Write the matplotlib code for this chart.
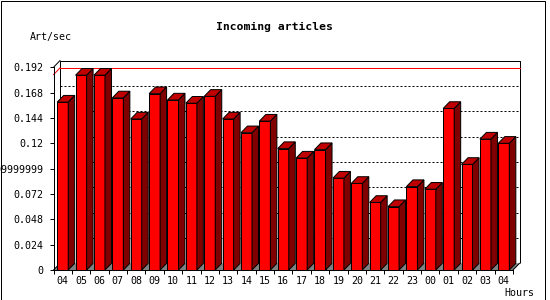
import matplotlib
matplotlib.use("Agg")
import matplotlib.pyplot as plt
from matplotlib.patches import Polygon, Rectangle
from matplotlib.transforms import ScaledTranslation

hours = ["04", "05", "06", "07", "08", "09", "10", "11", "12", "13", "14", "15",
         "16", "17", "18", "19", "20", "21", "22", "23", "00", "01", "02", "03", "04"]
values = [0.159, 0.1845, 0.1845, 0.163, 0.143, 0.167, 0.161, 0.158, 0.1645, 0.143,
          0.130, 0.141, 0.115, 0.106, 0.114, 0.087, 0.082, 0.064, 0.060, 0.079,
          0.0765, 0.153, 0.100, 0.124, 0.120]
ytick_values = [0, 0.024, 0.048, 0.072, 0.096, 0.12, 0.144, 0.168, 0.192]
ytick_labels = ["0", "0.024", "0.048", "0.072", "0.09599999999999999", "0.12",
                "0.144", "0.168", "0.192"]
peak_line = 0.185
title = "Incoming articles"
ylabel = "Art/sec"
xlabel = "Hours"

FONT = "DejaVu Sans Mono"
W, H = 550, 300
LW = 0.72  # 1 px

fig = plt.figure(figsize=(W / 100, H / 100), dpi=100)
fig.patch.set_facecolor("white")

ax_l, ax_b, ax_w, ax_h = 53.5, 30.0, 459.5, 202.7
ax = fig.add_axes([ax_l / W, ax_b / H, ax_w / W, ax_h / H])
ax.set_facecolor("none")
n = len(values)
ax.set_xlim(-0.5, n - 0.5)
ax.set_ylim(0, 0.192)

dpx, dpy = 6.5, 6.7
DX = dpx * (n / ax_w)
DY = dpy * (0.192 / ax_h)
back = ax.transData + ScaledTranslation(dpx / 100, dpy / 100, fig.dpi_scale_trans)

x0, x1 = -0.5, n - 0.5
# back wall gridlines
for yv in ytick_values[1:-1]:
    ax.plot([x0, x1], [yv, yv], transform=back, color="black", lw=LW,
            ls=(0, (2, 2)), zorder=0.5, clip_on=False)
# back wall box
ax.plot([x0, x0, x1, x1], [0, 0.192, 0.192, 0], transform=back, color="black",
        lw=LW, zorder=0.6, clip_on=False, solid_capstyle="butt")
# peak line
ax.plot([x0, x1], [peak_line, peak_line], transform=back, color="#ff0000",
        lw=LW, zorder=0.7, clip_on=False)
ax.plot([x0, x0 + DX], [peak_line, peak_line + DY], color="#ff0000", lw=LW,
        zorder=0.7, clip_on=False)
# top-left diagonal
ax.plot([x0, x0 + DX], [0.192, 0.192 + DY], color="black", lw=LW, zorder=0.7,
        clip_on=False)
# floor
ax.add_patch(Polygon([(x0, 0), (x1, 0), (x1 + DX, DY), (x0 + DX, DY)],
                     closed=True, fc="#808080", ec="none", zorder=0.8, clip_on=False))
ax.plot([x1, x1 + DX], [0, DY], color="black", lw=LW, zorder=0.9, clip_on=False)
ax.plot([x0, x0 + DX], [0, DY], color="black", lw=LW, zorder=0.9, clip_on=False)

# bars
bw = 0.6
xs = list(range(n))
bars = ax.bar(xs, values, width=bw, color="#ff0000", edgecolor="black",
              linewidth=LW, zorder=2, clip_on=False)
for i, (b, v) in enumerate(zip(bars, values)):
    z = 2 + i * 0.01
    b.set_zorder(z)
    l, r = i - bw / 2, i + bw / 2
    ax.add_patch(Polygon([(r, 0), (r + DX, DY), (r + DX, v + DY), (r, v)],
                         closed=True, fc="#800000", ec="black", lw=LW,
                         zorder=z + 0.001, clip_on=False))
    ax.add_patch(Polygon([(l, v), (l + DX, v + DY), (r + DX, v + DY), (r, v)],
                         closed=True, fc="#c00000", ec="black", lw=LW,
                         zorder=z + 0.002, clip_on=False))

# spines
for s in ["top", "right"]:
    ax.spines[s].set_visible(False)
for s in ["left", "bottom"]:
    ax.spines[s].set_linewidth(LW)
    ax.spines[s].set_color("black")
    ax.spines[s].set_zorder(5)

ax.set_yticks(ytick_values)
ax.set_yticklabels(ytick_labels, fontfamily=FONT, fontsize=7.2)
ax.tick_params(axis="y", length=3, width=LW, pad=4, direction="out")

ax.set_xticks([i - 0.5 for i in range(n + 1)])
ax.set_xticklabels([])
ax.set_xticks(xs, minor=True)
ax.set_xticklabels(hours, minor=True, fontfamily=FONT, fontsize=7.2)
ax.tick_params(axis="x", which="major", length=3, width=LW, direction="out")
ax.tick_params(axis="x", which="minor", length=0, pad=4.5)

fig.text(274 / W, 1 - 27 / H, title, ha="center", va="center", fontfamily=FONT,
         fontsize=8.2, fontweight="bold")
fig.text(30 / W, 1 - 37 / H, ylabel, ha="left", va="center", fontfamily=FONT,
         fontsize=7.2)
fig.text(504 / W, 1 - 292.5 / H, xlabel, ha="left", va="center", fontfamily=FONT,
         fontsize=7.2)

# outer frame
fig.add_artist(Rectangle((0.5 / W, 0.5 / H), 544 / W, 298.5 / H,
                         transform=fig.transFigure, fill=False, ec="black", lw=LW))

fig.savefig("out.png", dpi=100, facecolor="white")
